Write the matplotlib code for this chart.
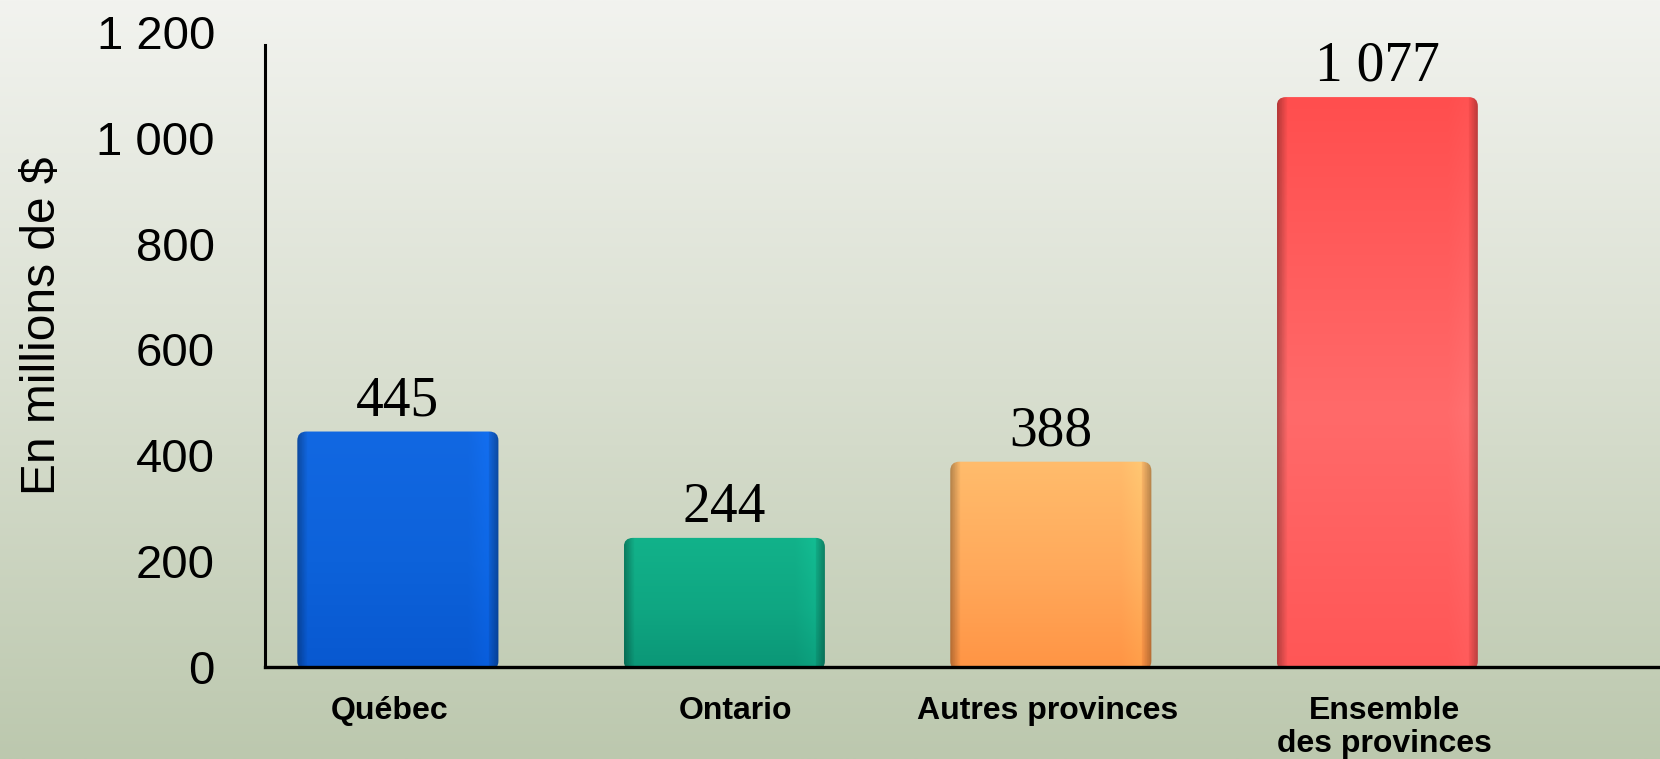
import numpy as np
import matplotlib
matplotlib.use("Agg")
import matplotlib.pyplot as plt
from matplotlib.colors import to_rgb
from matplotlib.patches import FancyBboxPatch
from matplotlib.transforms import ScaledTranslation

categories = ["Québec", "Ontario", "Autres provinces", "Ensemble\ndes provinces"]
values = [445, 244, 388, 1077]
top_colors = ["#1268e2", "#12b28a", "#ffbc6c", "#ff4e4e"]
bottom_colors = ["#0858d0", "#0b9676", "#ff9444", "#ff5656"]
mid_colors = ["#0d62da", "#0fa682", "#ffa85a", "#ff6a6a"]
yticks = [0, 200, 400, 600, 800, 1000, 1200]


def fmt(v):
    return f"{int(v):,}".replace(",", " ")


W, H = 1660, 759
fig = plt.figure(figsize=(W / 100, H / 100), dpi=100)

# background gradient
bg = fig.add_axes([0, 0, 1, 1], zorder=-10)
bg.set_axis_off()
top_bg = np.array(to_rgb("#f2f3ef"))
mid_bg = np.array(to_rgb("#d9dfd0"))
bot_bg = np.array(to_rgb("#bcc8ae"))
t = np.linspace(0, 1, 256)[:, None]
grad = np.where(t < 0.5, top_bg + (mid_bg - top_bg) * (t / 0.5), mid_bg + (bot_bg - mid_bg) * ((t - 0.5) / 0.5))
bg.imshow(grad[:, None, :].repeat(2, axis=1), aspect="auto", extent=[0, 1, 0, 1], origin="upper")
bg.set_xlim(0, 1)
bg.set_ylim(0, 1)

ax_h = (727 - 92) / H
ax = fig.add_axes([265 / W, 92 / H, 1 - 265 / W, ax_h])
ax.patch.set_alpha(0)
xlim = (-0.407, 3.866)
ylim = (0, 1200)
ax.set_xlim(*xlim)
ax.set_ylim(*ylim)

x = np.arange(len(categories))
width = 0.616
bars = ax.bar(x, values, width=width, color=mid_colors, zorder=2, linewidth=0)

px_per_x = (W - 265) / (xlim[1] - xlim[0])
px_per_y = (727 - 92) / (ylim[1] - ylim[0])
m_aspect = px_per_x / px_per_y

# gradient fill with darker edges and rounded corners
nx, ny = 120, 200
xs = np.linspace(0, 1, nx)
edge = np.clip(np.minimum(xs, 1 - xs) / 0.05, 0, 1)
hfac = 0.72 + 0.28 * edge
hfac = hfac * (1 + 0.06 * np.clip((xs - 0.85) / 0.1, 0, 1) * (xs < 0.95))
for rect, tc, mc, bc in zip(bars, top_colors, mid_colors, bottom_colors):
    tc, mc, bc = map(lambda c: np.array(to_rgb(c)), (tc, mc, bc))
    ts = np.linspace(0, 1, ny)[:, None, None]
    col = np.where(ts < 0.55, tc + (mc - tc) * (ts / 0.55), mc + (bc - mc) * ((ts - 0.55) / 0.45))
    img = np.clip(col * hfac[None, :, None], 0, 1)
    x0 = rect.get_x()
    w = rect.get_width()
    h = rect.get_height()
    clip = FancyBboxPatch((x0, -6), w, h + 6,
                          boxstyle="round,pad=0,rounding_size=0.028",
                          mutation_aspect=m_aspect, transform=ax.transData,
                          facecolor="none", edgecolor="none")
    ax.add_patch(clip)
    im = ax.imshow(img, extent=[x0, x0 + w, -6, h], aspect="auto", origin="upper", zorder=3)
    im.set_clip_path(clip)
    rect.set_visible(False)

for xi, v in zip(x, values):
    ax.annotate(fmt(v), (xi, v), xytext=(0, 3), textcoords="offset points",
                ha="center", va="bottom", fontsize=40, family="Liberation Serif",
                color="black", zorder=5)

ax.set_xlim(*xlim)
ax.set_ylim(*ylim)
ax.set_yticks(yticks)
ax.set_yticklabels([fmt(v) for v in yticks], fontsize=34, family="Liberation Sans")
ax.set_xticks(x)
ax.set_xticklabels(categories, fontsize=23, fontweight="bold", family="Liberation Sans",
                   linespacing=1.12)
ax.tick_params(axis="y", length=0, pad=36)
ax.tick_params(axis="x", length=0, pad=21)

label_shift_px = [-8, 11, -3, 7]
for lab, dx in zip(ax.get_xticklabels(), label_shift_px):
    lab.set_transform(lab.get_transform() + ScaledTranslation(dx / 100, 0, fig.dpi_scale_trans))

ax.set_ylabel("En millions de $", fontsize=34.5, family="Liberation Sans", labelpad=23)
ax.yaxis.label.set_y(0.538)

for s in ["top", "right"]:
    ax.spines[s].set_visible(False)
ax.spines["left"].set_bounds(0, 1176)
ax.spines["left"].set_linewidth(2.2)
ax.spines["bottom"].set_linewidth(2.4)
ax.spines["left"].set_zorder(6)
ax.spines["bottom"].set_zorder(6)
ax.set_axisbelow(False)

fig.savefig("out.png", dpi=100)
